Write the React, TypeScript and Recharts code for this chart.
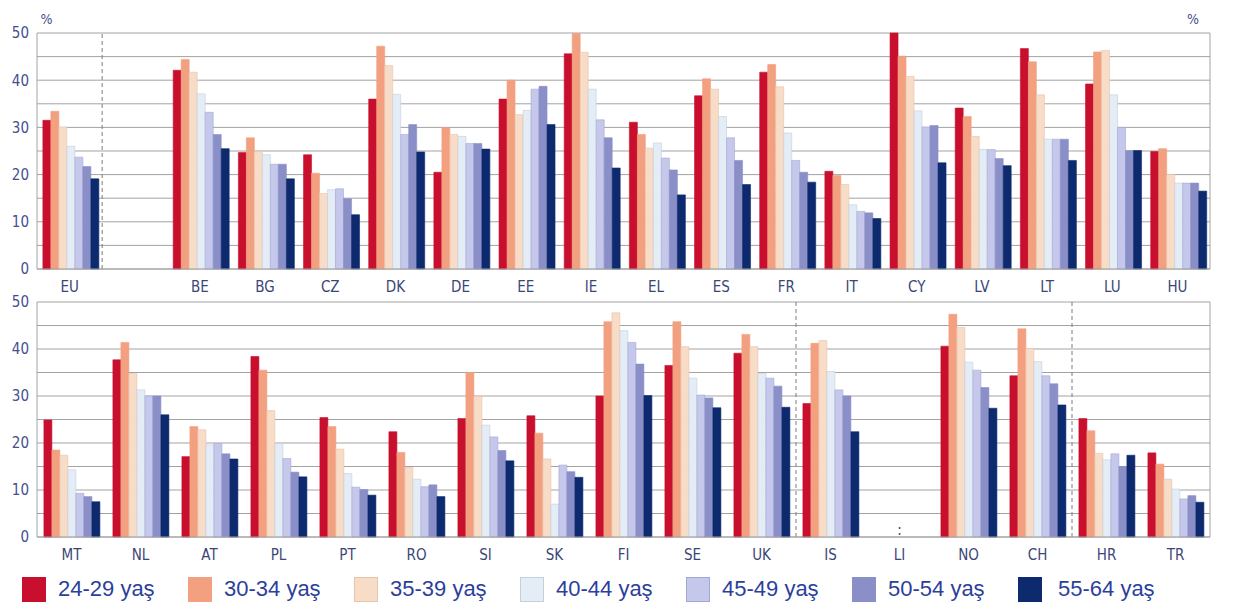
import React from "react";
import {
  BarChart,
  Bar,
  XAxis,
  YAxis,
  CartesianGrid,
  ReferenceLine,
  ReferenceDot,
  Legend,
} from "recharts";

const seriesNames = ["24-29 yaş", "30-34 yaş", "35-39 yaş", "40-44 yaş", "45-49 yaş", "50-54 yaş", "55-64 yaş"];
const seriesColors = ["#c8102e", "#f2a07f", "#f7dcc8", "#e4ecf5", "#c5c8ea", "#8a8fc8", "#0d2a6e"];
const seriesStrokes = ["#c8102e", "#f2a07f", "#e9c2aa", "#c3cede", "#a3a7d6", "#8a8fc8", "#0d2a6e"];
const yTicks = [0, 5, 10, 15, 20, 25, 30, 35, 40, 45, 50];

const categoriesTop = ["EU", "", "BE", "BG", "CZ", "DK", "DE", "EE", "IE", "EL", "ES", "FR", "IT", "CY", "LV", "LT", "LU", "HU"];
const s2429Top = [31.5, null, 42.1, 24.7, 24.2, 36.0, 20.5, 36.0, 45.6, 31.1, 36.7, 41.7, 20.7, 50.0, 34.1, 46.7, 39.2, 24.9];
const s3034Top = [33.4, null, 44.4, 27.8, 20.3, 47.2, 29.9, 40.0, 49.9, 28.5, 40.3, 43.3, 19.8, 45.1, 32.3, 43.9, 46.0, 25.5];
const s3539Top = [30.1, null, 41.7, 24.9, 16.0, 43.1, 28.5, 32.7, 45.9, 25.6, 38.1, 38.6, 17.9, 40.8, 28.1, 36.9, 46.3, 20.0];
const s4044Top = [26.0, null, 37.1, 24.2, 16.8, 37.0, 28.1, 33.6, 38.1, 26.7, 32.3, 28.8, 13.6, 33.5, 25.3, 27.5, 36.9, 18.2];
const s4549Top = [23.7, null, 33.2, 22.2, 17.0, 28.5, 26.6, 38.1, 31.6, 23.5, 27.8, 23.0, 12.2, 30.1, 25.3, 27.5, 30.0, 18.2];
const s5054Top = [21.7, null, 28.5, 22.2, 14.9, 30.6, 26.6, 38.7, 27.8, 21.0, 23.0, 20.5, 11.9, 30.4, 23.4, 27.5, 25.1, 18.2];
const s5564Top = [19.1, null, 25.5, 19.1, 11.5, 24.8, 25.4, 30.6, 21.4, 15.7, 17.9, 18.4, 10.7, 22.5, 21.9, 23.0, 25.1, 16.5];

const categoriesBottom = ["MT", "NL", "AT", "PL", "PT", "RO", "SI", "SK", "FI", "SE", "UK", "IS", "LI", "NO", "CH", "HR", "TR"];
const s2429Bot = [24.9, 37.7, 17.1, 38.4, 25.4, 22.4, 25.2, 25.8, 30.0, 36.5, 39.1, 28.4, null, 40.6, 34.3, 25.2, 17.9];
const s3034Bot = [18.5, 41.4, 23.5, 35.5, 23.5, 18.0, 35.0, 22.1, 45.8, 45.8, 43.1, 41.2, null, 47.4, 44.3, 22.6, 15.5];
const s3539Bot = [17.4, 34.8, 22.8, 26.9, 18.7, 14.8, 29.9, 16.6, 47.7, 40.5, 40.5, 41.8, null, 44.6, 40.1, 17.8, 12.3];
const s4044Bot = [14.3, 31.3, 19.6, 19.9, 13.5, 12.3, 23.8, 7.0, 43.9, 33.8, 34.8, 35.2, null, 37.2, 37.3, 16.4, 10.2];
const s4549Bot = [9.3, 30.0, 19.9, 16.7, 10.6, 10.7, 21.3, 15.3, 41.4, 30.2, 33.8, 31.3, null, 35.5, 34.3, 17.7, 8.1];
const s5054Bot = [8.6, 30.0, 17.7, 13.8, 10.1, 11.1, 18.4, 13.9, 36.8, 29.6, 32.1, 30.0, null, 31.8, 32.6, 15.0, 8.8];
const s5564Bot = [7.5, 26.0, 16.6, 12.8, 8.9, 8.6, 16.2, 12.7, 30.1, 27.5, 27.6, 22.4, null, 27.4, 28.1, 17.4, 7.4];

const keys = ["a", "b", "c", "d", "e", "f", "g"];

function buildRows(cats: string[], series: (number | null)[][]) {
  return cats.map((name, i) => {
    const row: Record<string, any> = { name };
    series.forEach((s, k) => {
      row[keys[k]] = s[i];
    });
    return row;
  });
}

const topRows = buildRows(categoriesTop, [s2429Top, s3034Top, s3539Top, s4044Top, s4549Top, s5054Top, s5564Top]);
const bottomRows = buildRows(categoriesBottom, [s2429Bot, s3034Bot, s3539Bot, s4044Bot, s4549Bot, s5054Bot, s5564Bot]);

const FONT = "'Liberation Sans Narrow', 'DejaVu Sans Condensed', 'Liberation Sans', sans-serif";
const GRID = "#a3a3a3";
const yTickStyle = { fill: "#434f8f", fontSize: 15, fontFamily: FONT };
const xTickStyle = { fill: "#3b4677", fontSize: 15, fontFamily: FONT };
const fmt = (v: number) => (v % 10 === 0 ? String(v) : "");

function renderBars() {
  return keys.map((k, i) => (
    <Bar
      key={k}
      dataKey={k}
      name={seriesNames[i]}
      fill={seriesColors[i]}
      stroke={seriesStrokes[i]}
      strokeWidth={0.6}
      isAnimationActive={false}
    />
  ));
}

function axes(showPercent: boolean) {
  return [
    <YAxis
      key="yl"
      yAxisId={0}
      domain={[0, 50]}
      ticks={yTicks}
      interval={0}
      tickFormatter={fmt}
      width={37}
      tickLine={false}
      axisLine={{ stroke: GRID }}
      tick={yTickStyle}
      label={
        showPercent
          ? { value: "%", position: "top", dx: 28, dy: -4, style: { fill: "#434f8f", fontSize: 14, fontFamily: FONT } }
          : undefined
      }
    />,
    <YAxis
      key="yr"
      yAxisId="r"
      orientation="right"
      domain={[0, 50]}
      ticks={yTicks}
      interval={0}
      tickFormatter={fmt}
      width={32}
      tickLine={false}
      axisLine={{ stroke: GRID }}
      tick={yTickStyle}
      label={
        showPercent
          ? { value: "%", position: "top", dx: -33, dy: -4, style: { fill: "#434f8f", fontSize: 14, fontFamily: FONT } }
          : undefined
      }
    />,
  ];
}

const legendContent = () => (
  <div style={{ position: "relative", width: 1242, height: 42 }}>
    {seriesNames.map((n, i) => (
      <div
        key={n}
        style={{
          position: "absolute",
          left: 22 + i * 166,
          top: 12,
          display: "flex",
          alignItems: "center",
          height: 26,
        }}
      >
        <div
          style={{
            width: 24,
            height: 25,
            background: seriesColors[i],
            border: "1px solid " + seriesStrokes[i],
            boxSizing: "border-box",
          }}
        />
        <span
          style={{
            marginLeft: i === 6 ? 16 : 12,
            fontFamily: "'Liberation Sans', Arial, sans-serif",
            fontSize: 22,
            color: "#2c3f9c",
            whiteSpace: "nowrap",
          }}
        >
          {n}
        </span>
      </div>
    ))}
  </div>
);

export default function App() {
  return (
    <div style={{ position: "absolute", left: 0, top: 0, width: 1242, height: 606, background: "#ffffff", overflow: "hidden" }}>
      <div style={{ position: "absolute", left: 0, top: 0 }}>
        <BarChart
          width={1242}
          height={298}
          data={topRows}
          margin={{ top: 33, right: 0, bottom: 0, left: 0 }}
          barCategoryGap="9%"
          barGap={0}
        >
          <CartesianGrid vertical={false} stroke={GRID} strokeWidth={1} />
          <XAxis
            dataKey="name"
            height={29}
            tickLine={false}
            tickMargin={6}
            interval={0}
            axisLine={{ stroke: GRID }}
            tick={xTickStyle}
          />
          {axes(true)}
          {renderBars()}
          <ReferenceLine x="EU" position="end" stroke="#7d7d7d" strokeDasharray="4 3" />
        </BarChart>
      </div>
      <div style={{ position: "absolute", left: 0, top: 290 }}>
        <BarChart
          width={1242}
          height={316}
          data={bottomRows}
          margin={{ top: 12, right: 0, bottom: 0, left: 0 }}
          barCategoryGap="10%"
          barGap={0}
        >
          <CartesianGrid vertical={false} stroke={GRID} strokeWidth={1} />
          <XAxis
            dataKey="name"
            height={27}
            tickLine={false}
            tickMargin={6}
            interval={0}
            axisLine={{ stroke: GRID }}
            tick={xTickStyle}
          />
          {axes(false)}
          {renderBars()}
          <ReferenceLine x="UK" position="end" stroke="#7d7d7d" strokeDasharray="4 3" />
          <ReferenceLine x="CH" position="end" stroke="#7d7d7d" strokeDasharray="4 3" />
          <ReferenceDot
            x="LI"
            y={1.5}
            r={0}
            fill="none"
            stroke="none"
            label={{ value: ":", position: "center", style: { fill: "#3b4677", fontSize: 15, fontFamily: FONT } }}
          />
          <Legend verticalAlign="bottom" height={42} content={legendContent} />
        </BarChart>
      </div>
    </div>
  );
}
